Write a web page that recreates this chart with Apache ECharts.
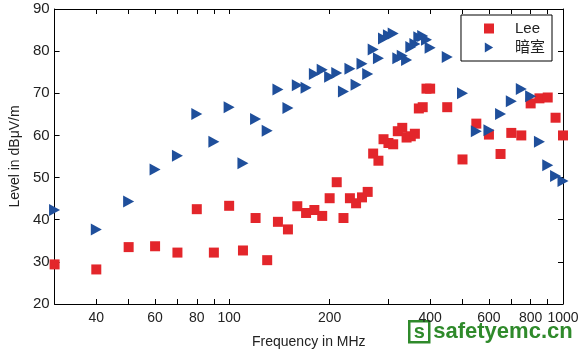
<!DOCTYPE html>
<html>
<head>
<meta charset="utf-8">
<script src="https://cdn.jsdelivr.net/npm/echarts@6/dist/echarts.min.js"></script>
<style>
html, body { margin: 0; padding: 0; background: #fff; }
#main { width: 584px; height: 354px; }
</style>
</head>
<body>
<div id="main"></div>
<script>
// frequency points (MHz), shared by both series
var freqs = [30, 40, 50, 60, 70, 80, 90, 100, 110, 120, 130, 140, 150, 160, 170, 180, 190, 200,
    210, 220, 230, 240, 250, 260, 270, 280, 290, 300, 310, 320, 330, 340, 350, 360, 370, 380, 390, 400,
    450, 500, 550, 600, 650, 700, 750, 800, 850, 900, 950, 1000];
var leeValues = [29.4, 28.2, 33.5, 33.7, 32.2, 42.5, 32.2, 43.3, 32.7, 40.4, 30.4, 39.5, 37.7, 43.2, 41.6, 42.3, 40.9, 45.1,
    48.9, 40.4, 45.1, 43.9, 45.3, 46.6, 55.7, 54.0, 59.1, 58.2, 57.9, 61.0, 61.8, 59.5, 59.8, 60.4, 66.4, 66.7, 71.1, 71.1,
    66.7, 54.3, 62.8, 60.2, 55.6, 60.6, 60.0, 67.6, 68.8, 69.0, 64.2, 60.0];
var chamberValues = [42.3, 37.7, 44.3, 51.9, 55.2, 65.1, 58.5, 66.7, 53.4, 63.9, 61.1, 70.9, 66.5, 71.9, 71.3, 74.6, 75.6, 73.9,
    74.8, 70.4, 75.8, 72.0, 77.0, 74.6, 80.4, 78.3, 83.0, 83.8, 84.2, 78.3, 78.9, 77.9, 81.0, 81.7, 83.3, 83.6, 82.7, 80.8,
    78.6, 70.0, 61.0, 61.2, 65.1, 68.1, 71.0, 69.3, 58.5, 52.9, 50.4, 49.2];
var xLabelValues = [40, 60, 80, 100, 200, 400, 600, 800, 1000];
var xTickValues = [30, 40, 50, 60, 70, 80, 90, 100, 200, 300, 400, 500, 600, 700, 800, 900, 1000];

function pairs(xs, ys) {
    return xs.map(function (x, i) { return [x, ys[i]]; });
}

var myChart = echarts.init(document.getElementById('main'));
var font = 'Liberation Sans, Arial, sans-serif';
var lineStyle = { color: '#000', width: 1 };

var xBase = {
    type: 'log',
    logBase: 10,
    min: 30,
    max: 1000,
    splitLine: { show: false },
    axisLine: { onZero: false, lineStyle: lineStyle },
    axisTick: { inside: true, length: 5, customValues: xTickValues, lineStyle: lineStyle }
};
var yBase = {
    type: 'value',
    min: 20,
    max: 90,
    interval: 10,
    splitLine: { show: false },
    axisLine: { show: true, onZero: false, lineStyle: lineStyle },
    axisTick: { show: true, inside: true, length: 5, lineStyle: lineStyle }
};

option = {
    animation: false,
    backgroundColor: '#fff',
    textStyle: { fontFamily: font },
    grid: { left: 53, top: 9, right: 21, bottom: 41 },
    legend: {
        orient: 'vertical',
        right: 32,
        top: 15,
        padding: [6, 7, 6, 23],
        itemGap: 4,
        itemWidth: 10,
        itemHeight: 10,
        borderColor: '#000',
        borderWidth: 1,
        borderRadius: 0,
        backgroundColor: '#fff',
        textStyle: { fontSize: 15, color: '#222', padding: [0, 0, 0, 16], fontFamily: font + ', Noto Sans CJK SC' },
        data: ['Lee', '暗室']
    },
    xAxis: [
        Object.assign({}, xBase, {
            position: 'bottom',
            name: 'Frequency in MHz',
            nameLocation: 'middle',
            nameGap: 31,
            nameTextStyle: { fontSize: 14, color: '#222' },
            axisLabel: {
                customValues: xLabelValues,
                fontSize: 14,
                color: '#222',
                margin: 7,
                formatter: function (v) { return String(Math.round(v)); }
            }
        }),
        Object.assign({}, xBase, { position: 'top', axisLabel: { show: false } })
    ],
    yAxis: [
        Object.assign({}, yBase, {
            position: 'left',
            name: 'Level in dBμV/m',
            nameLocation: 'middle',
            nameGap: 30,
            nameTextStyle: { fontSize: 14, color: '#222' },
            axisLabel: { fontSize: 15, color: '#222', margin: 5 }
        }),
        Object.assign({}, yBase, { position: 'right', axisLabel: { show: false } })
    ],
    series: [
        {
            name: 'Lee',
            type: 'scatter',
            symbol: 'rect',
            symbolSize: 10,
            itemStyle: { color: '#e3262b', opacity: 1 },
            data: pairs(freqs, leeValues)
        },
        {
            name: '暗室',
            type: 'scatter',
            symbol: 'path://M0,0 L10,6 L0,12 Z',
            symbolSize: [11, 12],
            itemStyle: { color: '#1f4f9b', opacity: 1 },
            data: pairs(freqs, chamberValues)
        }
    ],
    graphic: [
        {
            type: 'group',
            left: 408,
            top: 320,
            children: [
                { type: 'rect', shape: { x: 0, y: 0, width: 20, height: 21 }, style: { fill: '#fff', stroke: '#2f8a2b', lineWidth: 2.5 } },
                { type: 'text', x: 10, y: 11, style: { text: 's', fill: '#2f8a2b', font: 'bold 20px ' + font, align: 'center', verticalAlign: 'middle' } },
                { type: 'text', x: 24, y: 11, style: { text: 'safetyemc.cn', fill: '#2f8a2b', font: 'bold 22px ' + font, verticalAlign: 'middle' } }
            ]
        }
    ]
};
myChart.setOption(option);
</script>
</body>
</html>
